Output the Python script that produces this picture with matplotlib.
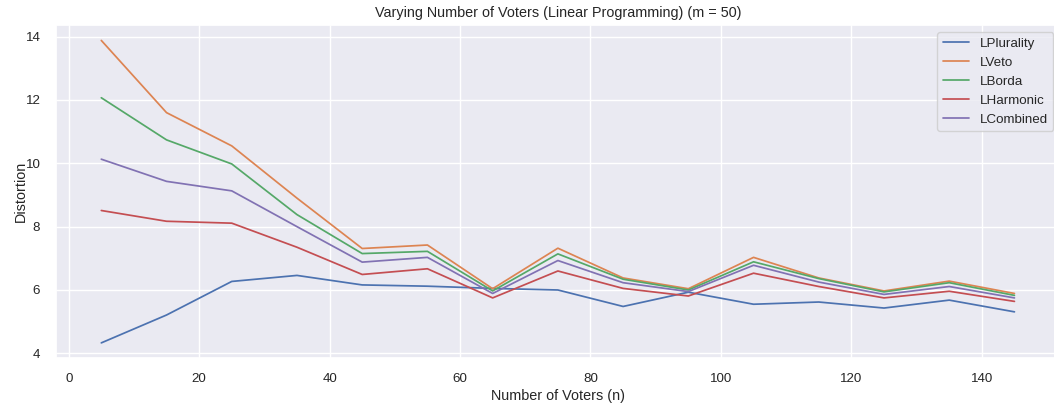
import matplotlib
matplotlib.use("Agg")
import matplotlib.pyplot as plt
import seaborn as sns
import numpy as np

voters = [5, 15, 25, 35, 45, 55, 65, 75, 85, 95, 105, 115, 125, 135, 145]

lplurality = [4.33, 5.21, 6.27, 6.46, 6.16, 6.12, 6.05, 6.00, 5.48, 5.93, 5.55, 5.62, 5.43, 5.68, 5.31]
lveto = [13.88, 11.60, 10.55, 8.90, 7.31, 7.42, 6.04, 7.32, 6.38, 6.04, 7.03, 6.38, 5.97, 6.28, 5.89]
lborda = [12.07, 10.74, 9.98, 8.38, 7.15, 7.22, 5.97, 7.14, 6.34, 6.00, 6.89, 6.36, 5.94, 6.23, 5.83]
lharmonic = [8.51, 8.17, 8.11, 7.35, 6.49, 6.67, 5.75, 6.60, 6.05, 5.81, 6.53, 6.11, 5.75, 5.96, 5.64]
lcombined = [10.13, 9.43, 9.13, 8.00, 6.88, 7.03, 5.89, 6.93, 6.23, 5.95, 6.78, 6.25, 5.86, 6.11, 5.75]

series = [
    ("LPlurality", lplurality),
    ("LVeto", lveto),
    ("LBorda", lborda),
    ("LHarmonic", lharmonic),
    ("LCombined", lcombined),
]

sns.set_theme(style="darkgrid")
plt.rcParams['font.family'] = ['Liberation Sans', 'DejaVu Sans']

fig = plt.figure(figsize=(10.54, 4.07), dpi=100)
ax = fig.add_axes([0.0528, 0.1204, 0.953, 0.8174])

for name, vals in series:
    ax.plot(voters, vals, label=name, linewidth=1.25)

ax.set_title("Varying Number of Voters (Linear Programming) (m = 50)", fontsize=10.4)
ax.set_xlabel("Number of Voters (n)", fontsize=10.4, labelpad=3)
ax.set_ylabel("Distortion", fontsize=10.4, labelpad=-1.5)
ax.tick_params(labelsize=9.6, pad=5)
ax.legend(fontsize=9.6, loc="upper right")

fig.savefig("out.png", dpi=100)
